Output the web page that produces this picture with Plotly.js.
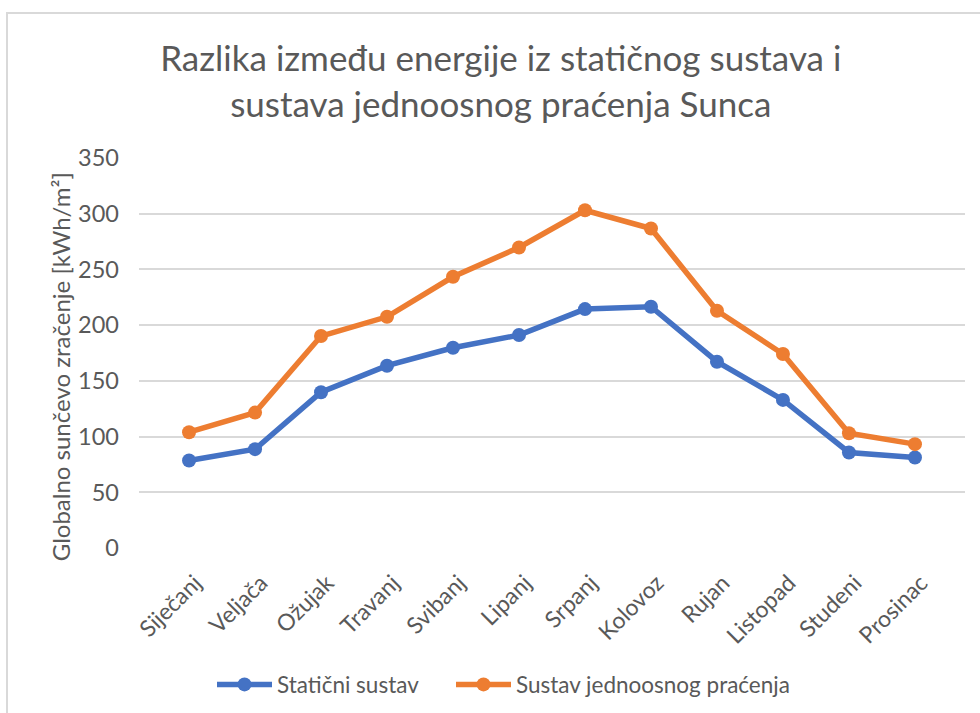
<!DOCTYPE html>
<html>
<head>
<meta charset="utf-8">
<script src="https://cdn.plot.ly/plotly-3.0.1.min.js"></script>
<style>
html,body{margin:0;padding:0;background:#fff;}
#wrap{position:relative;width:980px;height:713px;overflow:hidden;}
#chart{position:absolute;left:0;top:0;width:980px;height:713px;}
#frame{position:absolute;left:6px;top:12px;width:990px;height:720px;border:2px solid #d9d9d9;pointer-events:none;}
</style>
</head>
<body>
<div id="wrap"><div id="chart"></div><div id="frame"></div></div>
<script>
const months = ["Siječanj","Veljača","Ožujak","Travanj","Svibanj","Lipanj","Srpanj","Kolovoz","Rujan","Listopad","Studeni","Prosinac"];
const staticni = [78.5, 88.7, 139.8, 163.6, 179.7, 191.1, 214.4, 216.5, 167.2, 132.9, 85.7, 81.2];
const jednoosni = [103.9, 121.5, 190.2, 207.5, 243.4, 269.7, 303.1, 286.7, 212.9, 174.1, 103.0, 93.2];
const seriesNames = ["Statični sustav", "Sustav jednoosnog praćenja"];
const yTicks = [0, 50, 100, 150, 200, 250, 300, 350];
const yTitle = "Globalno sunčevo zračenje [kWh/m²]";

const FONT = "Lato, 'Liberation Sans', sans-serif";
const GREY = "#595959";

const traces = [
  {x: months, y: staticni, name: seriesNames[0], type: "scatter", mode: "lines+markers", legend: "legend",
   line: {color: "#4472C4", width: 5.5}, marker: {color: "#4472C4", size: 14}},
  {x: months, y: jednoosni, name: seriesNames[1], type: "scatter", mode: "lines+markers", legend: "legend2",
   line: {color: "#ED7D31", width: 5.5}, marker: {color: "#ED7D31", size: 14}}
];

const legendBase = {orientation: "h", yanchor: "middle", xanchor: "left", y: -(685-548)/390.6,
                    font: {size: 22.5, color: GREY}, itemwidth: 55, bgcolor: "rgba(0,0,0,0)"};

const layout = {
  width: 980, height: 713,
  paper_bgcolor: "rgba(0,0,0,0)", plot_bgcolor: "#fff",
  margin: {l: 139, r: 15, t: 158, b: 165, autoexpand: false},
  font: {family: FONT, color: GREY},
  title: {text: "Razlika između energije iz statičnog sustava i<br>sustava jednoosnog praćenja Sunca",
          font: {family: FONT, size: 35, color: GREY},
          x: 0.511, xanchor: "center", y: 1 - 71/713, yanchor: "middle", yref: "container"},
  xaxis: {type: "category", tickangle: -45, tickfont: {size: 23, color: GREY},
          showgrid: false, zeroline: false, showline: false, ticks: "", automargin: false,
          ticklabelstandoff: 16, ticklabelshift: 6},
  yaxis: {range: [0, 350], tickvals: yTicks, tickfont: {size: 23.5, color: GREY},
          gridcolor: "#d9d9d9", gridwidth: 2, zeroline: false, showline: false, ticks: "",
          ticklabelstandoff: 19, automargin: false},
  annotations: [{text: yTitle, textangle: -90, showarrow: false,
                 xref: "paper", yref: "paper", x: (60 - 139) / 826, y: (548 - 367) / 390.6,
                 xanchor: "center", yanchor: "middle", font: {size: 24, color: GREY}}],
  showlegend: true,
  legend: Object.assign({}, legendBase, {x: (212 - 139) / 826}),
  legend2: Object.assign({}, legendBase, {x: (451 - 139) / 826})
};

Plotly.newPlot("chart", traces, layout, {displayModeBar: false, staticPlot: true});
</script>
</body>
</html>
